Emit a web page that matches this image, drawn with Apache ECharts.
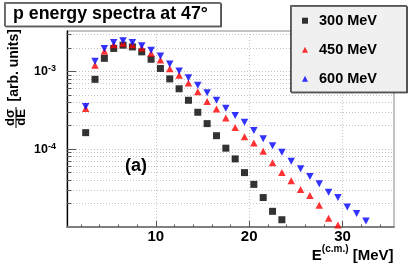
<!DOCTYPE html>
<html>
<head>
<meta charset="utf-8">
<script src="https://cdn.jsdelivr.net/npm/echarts@6/dist/echarts.min.js"></script>
<style>
html,body{margin:0;padding:0;background:#fff;}
#chart{width:415px;height:265px;}
</style>
</head>
<body>
<div id="chart"></div>
<script>
// ---- data ----
const binCenters = [2.5, 3.5, 4.5, 5.5, 6.5, 7.5, 8.5, 9.5, 10.5, 11.5, 12.5, 13.5, 14.5, 15.5, 16.5,
  17.5, 18.5, 19.5, 20.5, 21.5, 22.5, 23.5, 24.5, 25.5, 26.5, 27.5, 28.5, 29.5, 30.5, 31.5, 32.5];
const spec300 = [1.63e-4, 7.9e-4, 1.47e-3, 1.97e-3, 2.17e-3, 2.06e-3, 1.78e-3, 1.43e-3, 1.09e-3, 8.0e-4,
  5.97e-4, 4.25e-4, 2.98e-4, 2.13e-4, 1.49e-4, 1.03e-4, 7.5e-5, 5.0e-5, 3.53e-5, 2.39e-5, 1.59e-5, 1.24e-5];
const spec450 = [3.32e-4, 1.2e-3, 1.81e-3, 2.19e-3, 2.3e-3, 2.19e-3, 2.0e-3, 1.71e-3, 1.4e-3, 1.08e-3,
  8.9e-4, 7.1e-4, 5.46e-4, 4.09e-4, 3.29e-4, 2.52e-4, 1.9e-4, 1.44e-4, 1.2e-4, 9.4e-5, 6.7e-5, 5.0e-5,
  3.93e-5, 3.04e-5, 2.54e-5, 1.9e-5, 1.3e-5, 1.06e-5];
const spec600 = [3.53e-4, 1.35e-3, 1.97e-3, 2.35e-3, 2.47e-3, 2.35e-3, 2.13e-3, 1.87e-3, 1.58e-3, 1.24e-3,
  1.01e-3, 8.3e-4, 6.65e-4, 5.3e-4, 4.25e-4, 3.35e-4, 2.7e-4, 2.21e-4, 1.74e-4, 1.36e-4, 1.11e-4, 9.15e-5,
  7.0e-5, 5.6e-5, 4.47e-5, 3.59e-5, 2.8e-5, 2.39e-5, 1.81e-5, 1.49e-5, 1.19e-5];
const seriesNames = ['300 MeV', '450 MeV', '600 MeV'];
const xMajorTicks = [10, 20, 30];
const xMinorTicks = [2, 4, 6, 8, 10, 12, 14, 16, 18, 20, 22, 24, 26, 28, 30, 32, 34];
const yMajorTicks = [1e-4, 1e-3];
const yMinorTicks = [2e-5, 3e-5, 4e-5, 5e-5, 6e-5, 7e-5, 8e-5, 9e-5, 1e-4,
  2e-4, 3e-4, 4e-4, 5e-4, 6e-4, 7e-4, 8e-4, 9e-4, 1e-3, 2e-3, 3e-3];
const titleText = 'p energy spectra at 47°';
const panelLabel = '(a)';

const FONT = '"Liberation Sans", Arial, Helvetica, sans-serif';
function pairs(vals) { return vals.map((v, i) => [binCenters[i], v]); }

const chart = echarts.init(document.getElementById('chart'), null, {renderer: 'canvas'});
const X0 = 0.5, X1 = 35.5, Y0 = 1e-5, Y1 = 3.3e-3;

const option = {
  animation: false,
  backgroundColor: '#fff',
  textStyle: {fontFamily: FONT},
  grid: {left: 67, right: 21, top: 31, bottom: 38, show: true, borderColor: '#888', borderWidth: 1, backgroundColor: 'transparent'},
  xAxis: [{
    type: 'value', min: X0, max: X1, position: 'bottom',
    axisLine: {show: true, onZero: false, lineStyle: {color: '#808080', width: 2}},
    axisTick: {show: true, inside: true, length: 6, customValues: xMajorTicks, lineStyle: {color: '#555', width: 1}},
    axisLabel: {show: true, customValues: xMajorTicks, margin: 2, fontSize: 15, fontWeight: 'bold', color: '#000', fontFamily: FONT},
    splitLine: {show: true, lineStyle: {color: '#c4c4c4', width: 1, type: [1, 2]}}
  }, {
    type: 'value', min: X0, max: X1, position: 'bottom',
    axisLine: {show: false},
    axisTick: {show: true, inside: true, length: 2.5, customValues: xMinorTicks, lineStyle: {color: '#555', width: 1}},
    axisLabel: {show: false},
    splitLine: {show: false}
  }],
  yAxis: [{
    type: 'log', logBase: 10, min: Y0, max: Y1, position: 'left',
    axisLine: {show: true, onZero: false, lineStyle: {color: '#000', width: 1.3}},
    axisTick: {show: true, inside: true, length: 9, customValues: yMajorTicks, lineStyle: {color: '#555', width: 1}},
    axisLabel: {
      show: true, customValues: yMajorTicks, margin: 11,
      formatter: function (v) { return '{b|10}{s|' + Math.round(Math.log10(v)) + '}'; },
      rich: {
        b: {fontSize: 12.5, fontWeight: 'bold', color: '#000', fontFamily: FONT, lineHeight: 14, verticalAlign: 'middle'},
        s: {fontSize: 9, fontWeight: 'bold', color: '#000', fontFamily: FONT, lineHeight: 14, verticalAlign: 'top'}
      }
    },
    splitLine: {show: false}
  }, {
    type: 'log', logBase: 10, min: Y0, max: Y1, position: 'left',
    axisLine: {show: false},
    axisTick: {show: true, inside: true, length: 4.5, customValues: yMinorTicks, lineStyle: {color: '#555', width: 1}},
    axisLabel: {show: false},
    splitLine: {show: true, lineStyle: {color: '#c4c4c4', width: 1, type: [1, 2]}}
  }],
  legend: {
    orient: 'vertical', left: 290, top: 5, padding: [7.7, 0, 0, 12],
    itemWidth: 6, itemHeight: 6, itemGap: 13, z: 10,
    backgroundColor: 'transparent',
    textStyle: {fontSize: 14.5, fontWeight: 'bold', lineHeight: 16, color: '#000', fontFamily: FONT, padding: [0, 0, 0, 6]},
    data: seriesNames
  },
  series: [{
    name: seriesNames[0], type: 'scatter', xAxisIndex: 0, yAxisIndex: 0,
    symbol: 'rect', symbolSize: 7, itemStyle: {color: '#000'},
    data: pairs(spec300), z: 3
  }, {
    name: seriesNames[1], type: 'scatter', xAxisIndex: 0, yAxisIndex: 0,
    symbol: 'triangle', symbolSize: [7.5, 7], itemStyle: {color: '#ff0000'},
    data: pairs(spec450), z: 4
  }, {
    name: seriesNames[2], type: 'scatter', xAxisIndex: 0, yAxisIndex: 0,
    symbol: 'triangle', symbolRotate: 180, symbolSize: [7.5, 7], itemStyle: {color: '#0000ff'},
    data: pairs(spec600), z: 5
  }],
  graphic: [
    {type: 'rect', z: 8, shape: {x: 4.5, y: 2.5, width: 216, height: 23.5},
     style: {fill: '#fff', stroke: '#666', lineWidth: 1, shadowColor: 'rgba(0,0,0,0.55)', shadowOffsetX: 1, shadowOffsetY: 1, shadowBlur: 0}},
    {type: 'text', z: 9, x: 13, y: 14, style: {text: titleText, fontSize: 17.8, fontWeight: 'bold', fontFamily: FONT, fill: '#000', align: 'left', verticalAlign: 'middle'}},
    {type: 'rect', z: 8, shape: {x: 290.5, y: 5.5, width: 116, height: 86.5},
     style: {fill: '#f0f0f0', stroke: '#555', lineWidth: 1, shadowColor: 'rgba(0,0,0,0.55)', shadowOffsetX: 1, shadowOffsetY: 1, shadowBlur: 0}},
    {type: 'text', z: 9, x: 136, y: 166, style: {text: panelLabel, fontSize: 18, fontWeight: 'bold', fontFamily: FONT, fill: '#000', align: 'center', verticalAlign: 'middle'}},
    {type: 'text', z: 9, x: 393.5, y: 244.5, style: {
      text: '{e|E}{s|(c.m.)}{e| [MeV]}', align: 'right', verticalAlign: 'top', fill: '#000',
      rich: {
        e: {fontSize: 15, fontWeight: 'bold', fontFamily: FONT, lineHeight: 19, verticalAlign: 'bottom', fill: '#000'},
        s: {fontSize: 10, fontWeight: 'bold', fontFamily: FONT, lineHeight: 10, verticalAlign: 'top', fill: '#000'}
      }}},
    {type: 'group', x: 0, y: 130, rotation: Math.PI / 2, z: 9, children: [
      {type: 'text', x: 12.5, y: 10.8, style: {text: 'dσ', fontSize: 13, fontWeight: 'bold', fontFamily: FONT, fill: '#000', align: 'center', verticalAlign: 'middle'}},
      {type: 'line', shape: {x1: 2, y1: 16, x2: 23, y2: 16}, style: {stroke: '#000', lineWidth: 1}},
      {type: 'text', x: 12.5, y: 21.5, style: {text: 'dE', fontSize: 13, fontWeight: 'bold', fontFamily: FONT, fill: '#000', align: 'center', verticalAlign: 'middle'}},
      {type: 'text', x: 28.5, y: 14.2, style: {text: '[arb. units]', fontSize: 14, fontWeight: 'bold', fontFamily: FONT, fill: '#000', align: 'left', verticalAlign: 'middle'}}
    ]}
  ]
};
chart.setOption(option);
</script>
</body>
</html>
